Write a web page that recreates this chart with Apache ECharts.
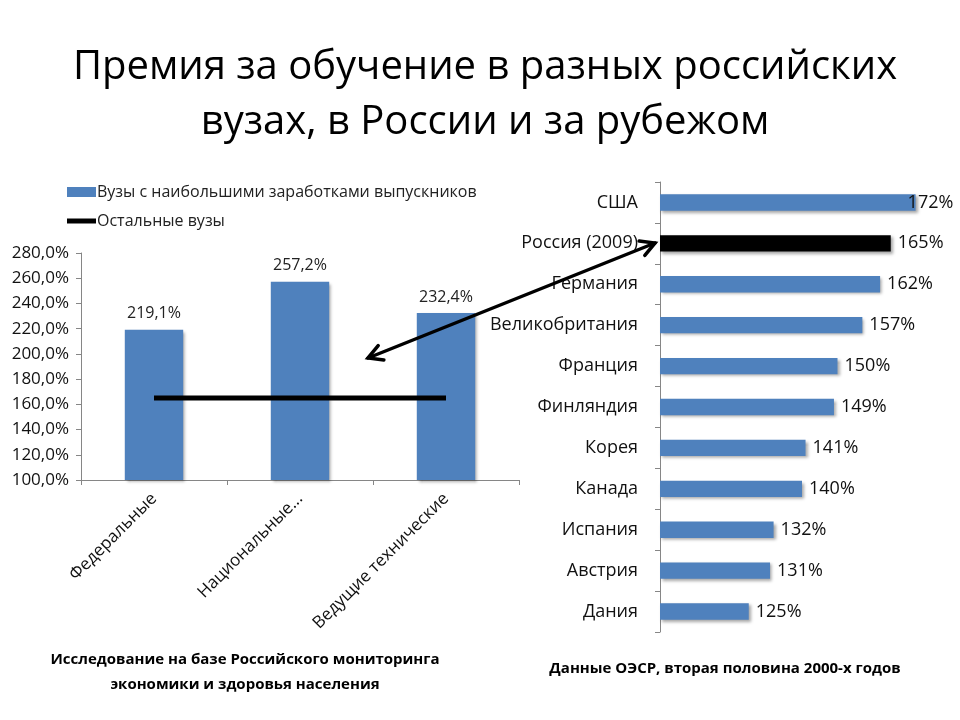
<!DOCTYPE html>
<html>
<head>
<meta charset="utf-8">
<script src="https://cdn.jsdelivr.net/npm/echarts@6/dist/echarts.min.js"></script>
<style>
  html, body { margin: 0; padding: 0; background: #fff; }
  #chart { width: 960px; height: 720px; }
</style>
</head>
<body>
<div id="chart"></div>
<script>
// левый график: вузы
const uniCategories = ['Федеральные', 'Национальные...', 'Ведущие технические'];
const uniTop = [219.1, 257.2, 232.4];
const uniOther = [165, 165, 165];

// правый график: страны (ОЭСР)
const countries = ['США', 'Россия (2009)', 'Германия', 'Великобритания', 'Франция', 'Финляндия',
  'Корея', 'Канада', 'Испания', 'Австрия', 'Дания'];
const countryValues = [172, 165, 162, 157, 150, 149, 141, 140, 132, 131, 125];
const highlightCountry = 'Россия (2009)';

const FONT = '"Open Sans", "Noto Sans", sans-serif';
const BLUE = '#4F81BD';
const AXIS = '#868686';

const barShadow = {
  shadowColor: 'rgba(0,0,0,0.35)',
  shadowBlur: 3,
  shadowOffsetX: 2,
  shadowOffsetY: 2
};

// стрелка с двумя наконечниками
function arrowGraphic(x1, y1, x2, y2) {
  const head = 16, spread = 0.5;
  const ang = Math.atan2(y2 - y1, x2 - x1);
  const headAt = (x, y, a) => [
    [x + head * Math.cos(a + spread), y + head * Math.sin(a + spread)],
    [x, y],
    [x + head * Math.cos(a - spread), y + head * Math.sin(a - spread)]
  ];
  const style = { stroke: '#000', lineWidth: 3.5, fill: null, lineCap: 'round', lineJoin: 'miter' };
  return [
    { type: 'line', shape: { x1, y1, x2, y2 }, style, z: 100 },
    { type: 'polyline', shape: { points: headAt(x1, y1, ang) }, style, z: 100 },
    { type: 'polyline', shape: { points: headAt(x2, y2, ang + Math.PI) }, style, z: 100 }
  ];
}

const chart = echarts.init(document.getElementById('chart'));

const option = {
  backgroundColor: '#fff',
  textStyle: { fontFamily: FONT },
  title: [
    {
      text: 'Премия за обучение в разных российских\nвузах, в России и за рубежом',
      left: 480,
      top: 35,
      textAlign: 'center',
      textStyle: { fontFamily: FONT, fontSize: 40, fontWeight: 'normal', color: '#000', lineHeight: 55 }
    },
    {
      text: 'Исследование на базе Российского мониторинга\nэкономики и здоровья населения',
      left: 240,
      top: 642,
      textAlign: 'center',
      textStyle: { fontFamily: FONT, fontSize: 15, fontWeight: 'bold', color: '#000', lineHeight: 25 }
    },
    {
      text: 'Данные ОЭСР, вторая половина 2000-х годов',
      left: 720,
      top: 656,
      textAlign: 'center',
      textStyle: { fontFamily: FONT, fontSize: 15, fontWeight: 'bold', color: '#000' }
    }
  ],
  legend: {
    left: 62,
    top: 179,
    orient: 'vertical',
    itemGap: 13,
    itemWidth: 29,
    itemHeight: 10,
    textStyle: { fontFamily: FONT, fontSize: 16, color: '#222', padding: [0, 0, 0, -4] },
    data: [
      { name: 'Вузы с наибольшими заработками выпускников', icon: 'rect' },
      { name: 'Остальные вузы', icon: 'path://M0,0h29v5h-29z' }
    ]
  },
  grid: [
    { left: 81, top: 253, width: 438, height: 227 },
    { left: 660, top: 182, width: 284, height: 450 }
  ],
  xAxis: [
    {
      type: 'category',
      gridIndex: 0,
      data: uniCategories,
      axisLine: { lineStyle: { color: AXIS } },
      axisTick: { show: true, length: 5, lineStyle: { color: AXIS } },
      axisLabel: { rotate: 45, fontSize: 17, color: '#111', margin: 16, interval: 0 }
    },
    {
      type: 'value',
      gridIndex: 1,
      min: 100,
      max: 180,
      show: false
    }
  ],
  yAxis: [
    {
      type: 'value',
      gridIndex: 0,
      min: 100,
      max: 280,
      interval: 20,
      splitLine: { show: false },
      axisLine: { show: true, lineStyle: { color: AXIS } },
      axisTick: { show: true, length: 5, lineStyle: { color: AXIS } },
      axisLabel: {
        fontSize: 17,
        color: '#111',
        margin: 12,
        formatter: v => v.toFixed(1).replace('.', ',') + '%'
      }
    },
    {
      type: 'category',
      gridIndex: 1,
      data: countries,
      inverse: true,
      axisLine: { lineStyle: { color: AXIS } },
      axisTick: { show: true, length: 5, lineStyle: { color: AXIS } },
      axisLabel: { fontSize: 18, color: '#111', margin: 22 }
    }
  ],
  series: [
    {
      name: 'Вузы с наибольшими заработками выпускников',
      type: 'bar',
      xAxisIndex: 0,
      yAxisIndex: 0,
      data: uniTop,
      barWidth: '40%',
      itemStyle: Object.assign({ color: BLUE }, barShadow),
      label: {
        show: true,
        position: 'top',
        distance: 8,
        fontSize: 16,
        color: '#222',
        formatter: p => p.value.toFixed(1).replace('.', ',') + '%'
      }
    },
    {
      name: 'Остальные вузы',
      type: 'line',
      xAxisIndex: 0,
      yAxisIndex: 0,
      data: uniOther,
      symbol: 'none',
      lineStyle: { color: '#000', width: 5 },
      itemStyle: { color: '#000' },
      z: 5
    },
    {
      name: 'ОЭСР',
      type: 'bar',
      xAxisIndex: 1,
      yAxisIndex: 1,
      barWidth: '40%',
      data: countryValues.map((v, i) => {
        const item = {
          value: v,
          itemStyle: { color: countries[i] === highlightCountry ? '#000' : BLUE }
        };
        // подпись самого длинного столбца заходит на него, чтобы не выйти за край
        if (i === 0) item.label = { distance: -8 };
        return item;
      }),
      itemStyle: barShadow,
      label: {
        show: true,
        position: 'right',
        distance: 7,
        fontSize: 18,
        color: '#111',
        formatter: '{c}%'
      }
    }
  ],
  graphic: arrowGraphic(655, 243, 368, 358)
};

chart.setOption(option);
</script>
</body>
</html>
